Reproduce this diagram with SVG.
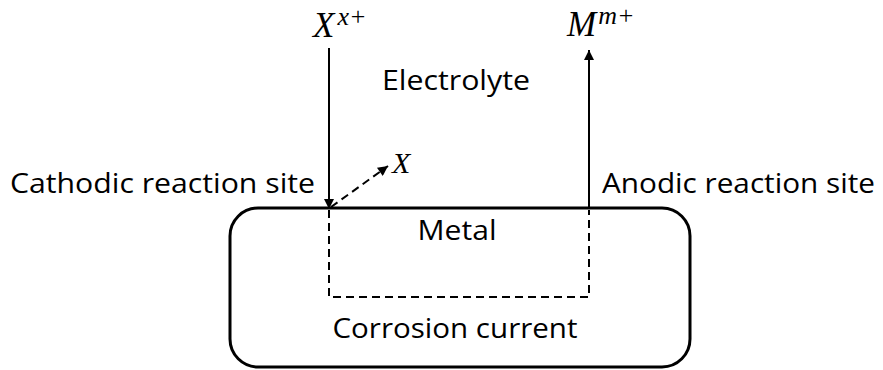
<svg xmlns="http://www.w3.org/2000/svg" width="883" height="370" viewBox="0 0 883 370">
<defs>
<marker id="ah" viewBox="0 0 10 10" refX="10" refY="5" markerWidth="6" markerHeight="5" orient="auto" markerUnits="strokeWidth">
<path d="M0,0 L10,5 L0,10 z" fill="#000"/>
</marker>
</defs>
<style>
.lbl{font-family:"Open Sans","Liberation Sans",sans-serif;font-size:27px;fill:#000}
.math{font-family:"Liberation Serif","DejaVu Serif",serif;font-style:italic;fill:#000}
.solid{stroke:#000;stroke-width:2;fill:none}
.dash{stroke:#000;stroke-width:2;fill:none;stroke-dasharray:8,5}
</style>
<rect width="883" height="370" fill="#fff"/>
<g id="metal">
<rect x="230" y="208" width="460" height="159" rx="28" ry="28" fill="none" stroke="#000" stroke-width="3"/>
<text class="lbl" x="457" y="240" text-anchor="middle" textLength="79" lengthAdjust="spacingAndGlyphs">Metal</text>
</g>
<g id="corrosion-current">
<text class="lbl" x="455" y="338" text-anchor="middle" textLength="245" lengthAdjust="spacingAndGlyphs">Corrosion current</text>
</g>
<g id="electrolyte">
<text class="lbl" x="456" y="90" text-anchor="middle" textLength="148" lengthAdjust="spacingAndGlyphs">Electrolyte</text>
</g>
<g id="cathodic">
<text class="lbl" x="10" y="193" textLength="305" lengthAdjust="spacingAndGlyphs">Cathodic reaction site</text>
</g>
<g id="anodic">
<text class="lbl" x="602" y="193" textLength="273" lengthAdjust="spacingAndGlyphs">Anodic reaction site</text>
</g>
<g id="Xxplus">
<text class="math" x="313" y="37" font-size="35">X<tspan font-size="26" dy="-12" dx="3">x+</tspan></text>
</g>
<g id="Mmplus">
<text class="math" x="567" y="36" font-size="35">M<tspan font-size="26" dy="-12" dx="2">m+</tspan></text>
</g>
<g id="X">
<text class="math" x="392" y="173" font-size="30">X</text>
</g>
<g id="connectors">
<line class="solid" x1="329" y1="48" x2="329" y2="209" marker-end="url(#ah)"/>
<line class="solid" x1="589" y1="208" x2="589" y2="50" marker-end="url(#ah)"/>
<line class="dash" x1="331" y1="207" x2="388" y2="166" stroke-dasharray="6,4" marker-end="url(#ah)"/>
<polyline class="dash" points="329,210 329,297 589,297 589,210"/>
</g>
</svg>
